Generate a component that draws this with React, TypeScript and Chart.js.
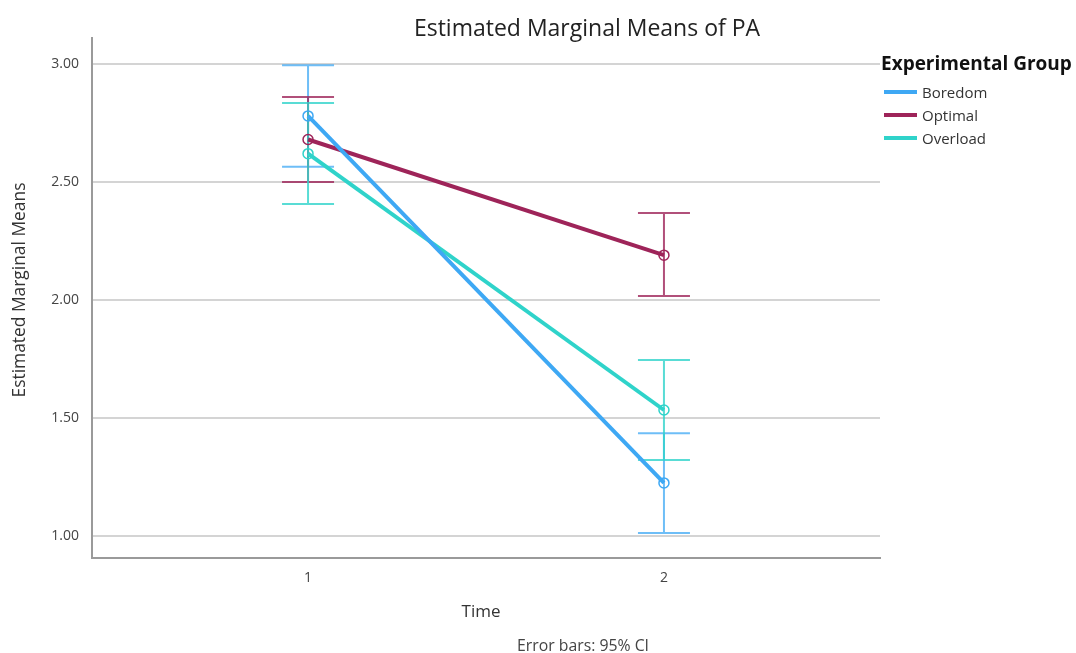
import React, { useEffect, useRef } from "react";
import { Chart, registerables } from "chart.js";
Chart.register(...registerables);

const timePoints = [1, 2];
const xTickLabels = ["1", "2"];
const groupNames = ["Boredom", "Optimal", "Overload"];
const boredomMean = [2.78, 1.225];
const boredomLower = [2.565, 1.013];
const boredomUpper = [2.995, 1.436];
const optimalMean = [2.68, 2.19];
const optimalLower = [2.5, 2.017];
const optimalUpper = [2.86, 2.369];
const overloadMean = [2.62, 1.534];
const overloadLower = [2.407, 1.322];
const overloadUpper = [2.835, 1.746];
const yTicks = [1, 1.5, 2, 2.5, 3];

const lineColors = ["#3EA8F4", "#9E2459", "#2FD3CA"];
const barColors = ["rgba(62,168,244,0.75)", "rgba(158,36,89,0.8)", "rgba(47,211,202,0.8)"];

const means = [boredomMean, optimalMean, overloadMean];
const lowers = [boredomLower, optimalLower, overloadLower];
const uppers = [boredomUpper, optimalUpper, overloadUpper];

const FONT = "'Open Sans', 'Noto Sans', sans-serif";

export default function App() {
  const ref = useRef<HTMLCanvasElement | null>(null);
  useEffect(() => {
    if (!ref.current) return;
    const errorBars = {
      id: "errorBars",
      beforeDatasetsDraw(chart: any) {
        const ctx = chart.ctx;
        const xs = chart.scales.x;
        const ys = chart.scales.y;
        ctx.save();
        ctx.lineWidth = 2;
        for (let g = 0; g < groupNames.length; g++) {
          ctx.strokeStyle = barColors[g];
          for (let i = 0; i < timePoints.length; i++) {
            const px = xs.getPixelForValue(timePoints[i]);
            const lo = ys.getPixelForValue(lowers[g][i]);
            const hi = ys.getPixelForValue(uppers[g][i]);
            ctx.beginPath();
            ctx.moveTo(px, lo);
            ctx.lineTo(px, hi);
            ctx.moveTo(px - 26, lo);
            ctx.lineTo(px + 26, lo);
            ctx.moveTo(px - 26, hi);
            ctx.lineTo(px + 26, hi);
            ctx.stroke();
          }
        }
        ctx.restore();
      },
    };
    const texts = {
      id: "texts",
      afterDraw(chart: any) {
        const ctx = chart.ctx;
        ctx.save();
        ctx.fillStyle = "#222";
        ctx.textBaseline = "middle";
        ctx.textAlign = "center";
        ctx.font = `23px ${FONT}`;
        ctx.fillText("Estimated Marginal Means of PA", 587, 29);
        ctx.font = `17px ${FONT}`;
        ctx.fillStyle = "#333";
        ctx.fillText("Time", 481, 612);
        ctx.font = `15.8px ${FONT}`;
        ctx.fillStyle = "#444";
        ctx.fillText("Error bars: 95% CI", 583, 646);
        ctx.save();
        ctx.translate(20, 290);
        ctx.rotate(-Math.PI / 2);
        ctx.font = `17.4px ${FONT}`;
        ctx.fillStyle = "#333";
        ctx.fillText("Estimated Marginal Means", 0, 0);
        ctx.restore();
        // legend
        ctx.textAlign = "left";
        ctx.font = `bold 19px ${FONT}`;
        ctx.fillStyle = "#111";
        ctx.fillText("Experimental Group", 881, 65);
        ctx.font = `15px ${FONT}`;
        for (let g = 0; g < groupNames.length; g++) {
          const y = 92 + g * 23;
          ctx.strokeStyle = lineColors[g];
          ctx.lineWidth = 4;
          ctx.beginPath();
          ctx.moveTo(884, y);
          ctx.lineTo(917, y);
          ctx.stroke();
          ctx.fillStyle = "#333";
          ctx.fillText(groupNames[g], 922, y + 1.5);
        }
        ctx.restore();
      },
    };
    const chart = new Chart(ref.current, {
      type: "line",
      data: {
        datasets: groupNames.map((name, g) => ({
          label: name,
          data: timePoints.map((t, i) => ({ x: t, y: means[g][i] })),
          borderColor: lineColors[g],
          backgroundColor: "rgba(0,0,0,0)",
          pointBorderColor: lineColors[g],
          pointBackgroundColor: "rgba(255,255,255,0)",
          pointRadius: 5,
          pointBorderWidth: 1.5,
          borderWidth: 4,
          tension: 0,
        })),
      },
      options: {
        responsive: false,
        animation: false,
        devicePixelRatio: 1,
        layout: { padding: { top: 38, right: 196, left: 0, bottom: 0 } },
        plugins: { legend: { display: false }, title: { display: false }, tooltip: { enabled: false } },
        scales: {
          x: {
            type: "linear",
            min: 0.393,
            max: 2.607,
            afterBuildTicks: (s: any) => {
              s.ticks = timePoints.map((v) => ({ value: v }));
            },
            afterFit: (s: any) => {
              s.height = 95;
            },
            ticks: {
              callback: (v: any) => xTickLabels[timePoints.indexOf(Number(v))] ?? "",
              font: { size: 14, family: FONT },
              color: "#444",
              padding: 12,
              maxRotation: 0,
            },
            grid: { display: false, drawTicks: false },
            border: { display: true, color: "#9a9a9a", width: 2 },
          },
          y: {
            type: "linear",
            min: 0.907,
            max: 3.11,
            afterBuildTicks: (s: any) => {
              s.ticks = yTicks.map((v) => ({ value: v }));
            },
            afterFit: (s: any) => {
              s.width = 92;
            },
            ticks: {
              callback: (v: any) => Number(v).toFixed(2),
              font: { size: 14, family: FONT },
              color: "#444",
              padding: 13,
            },
            grid: { color: "#d4d4d4", lineWidth: 2, drawTicks: false },
            border: { display: true, color: "#9a9a9a", width: 2 },
          },
        },
      },
      plugins: [errorBars, texts],
    } as any);
    return () => chart.destroy();
  }, []);
  return (
    <div style={{ position: "fixed", left: 0, top: 0, width: 1076, height: 653, background: "#fff" }}>
      <canvas ref={ref} width={1076} height={653} style={{ width: 1076, height: 653, display: "block" }} />
    </div>
  );
}
